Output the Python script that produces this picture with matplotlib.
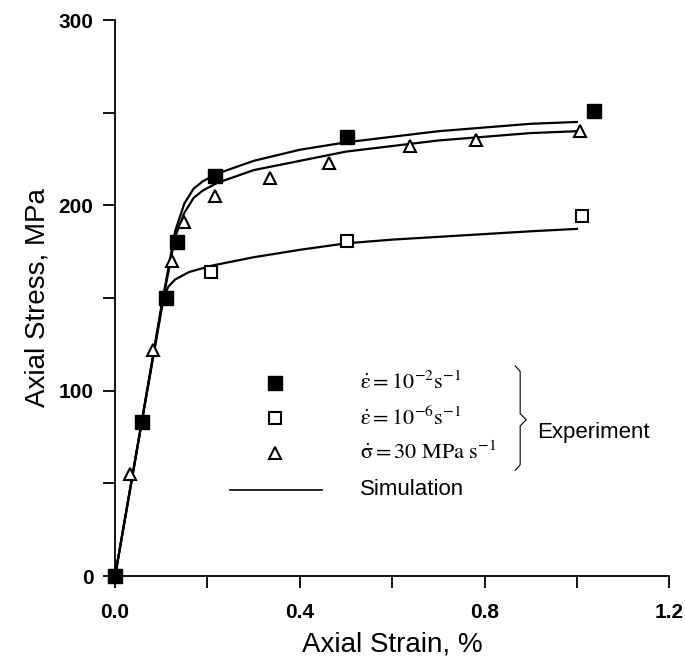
import numpy as np
import matplotlib.pyplot as plt
from matplotlib.ticker import MultipleLocator, FormatStrFormatter

plt.rcParams['font.family'] = ['Liberation Sans', 'DejaVu Sans']
plt.rcParams['mathtext.fontset'] = 'stix'

# experiment, strain rate 1e-2 1/s (filled squares)
fast_x = [0.0, 0.058, 0.111, 0.135, 0.217, 0.503, 1.036]
fast_y = [0, 83, 150, 180, 216, 237, 251]

# experiment, strain rate 1e-6 1/s (open squares)
slow_x = [0.0, 0.208, 0.503, 1.011]
slow_y = [0, 164, 181, 194]

# experiment, stress rate 30 MPa/s (triangles)
tri_x = [0.033, 0.082, 0.123, 0.150, 0.217, 0.336, 0.463, 0.638, 0.781, 1.006]
tri_y = [55, 122, 170, 191, 205, 215, 223, 232, 235, 240]

# simulations
sim_fast_x = [0.0, 0.05, 0.10, 0.13, 0.15, 0.17, 0.19, 0.22, 0.30, 0.40, 0.50, 0.60, 0.70, 0.80, 0.90, 1.00]
sim_fast_y = [0, 72, 145, 186, 201, 209, 213, 217, 224, 230, 234, 237, 240, 242, 244, 245]
sim_tri_x = [0.0, 0.05, 0.10, 0.13, 0.15, 0.17, 0.19, 0.22, 0.30, 0.40, 0.50, 0.60, 0.70, 0.80, 0.90, 1.00]
sim_tri_y = [0, 72, 144, 183, 196, 204, 208, 212, 219, 224, 229, 232, 235, 237, 239, 240]
sim_slow_x = [0.0, 0.05, 0.105, 0.115, 0.13, 0.16, 0.21, 0.30, 0.40, 0.50, 0.60, 0.70, 0.80, 0.90, 1.00]
sim_slow_y = [0, 72, 150, 156, 160, 164, 167.5, 172, 176, 179.5, 181.5, 183, 184.5, 186, 187.3]

fig = plt.figure(figsize=(6.85, 6.67), dpi=100)
ax = fig.add_axes([0.168, 0.1364, 0.809, 0.8336])

lw = 1.6
ax.plot(sim_fast_x, sim_fast_y, color='black', lw=lw)
ax.plot(sim_tri_x, sim_tri_y, color='black', lw=lw)
ax.plot(sim_slow_x, sim_slow_y, color='black', lw=lw)

ax.plot(tri_x, tri_y, ls='none', marker='^', ms=8, mfc='white', mec='black', mew=1.5, clip_on=False)
ax.plot(slow_x, slow_y, ls='none', marker='s', ms=8.5, mfc='white', mec='black', mew=1.5, clip_on=False)
ax.plot(fast_x, fast_y, ls='none', marker='s', ms=9.5, mfc='black', mec='black', clip_on=False)

ax.set_xlim(0, 1.2)
ax.set_ylim(0, 300)
ax.xaxis.set_major_locator(MultipleLocator(0.4))
ax.xaxis.set_minor_locator(MultipleLocator(0.2))
ax.xaxis.set_major_formatter(FormatStrFormatter('%.1f'))
ax.yaxis.set_major_locator(MultipleLocator(100))
ax.yaxis.set_minor_locator(MultipleLocator(50))

for s in ['top', 'right']:
    ax.spines[s].set_visible(False)
for s in ['left', 'bottom']:
    ax.spines[s].set_linewidth(1.3)

ax.tick_params(which='both', direction='out', width=1.3, length=8.5)
ax.tick_params(axis='y', pad=7)
ax.tick_params(axis='x', pad=11)
for lab in ax.get_xticklabels() + ax.get_yticklabels():
    lab.set_fontsize(15)
    lab.set_fontweight('bold')

ax.set_xlabel('Axial Strain, %', fontsize=20, labelpad=7)
ax.set_ylabel('Axial Stress, MPa', fontsize=20, labelpad=6)

# hand-made legend
mx = 0.289
tx = 0.442
rows = [0.347, 0.284, 0.221, 0.155]
ax.plot([mx], [rows[0]], transform=ax.transAxes, marker='s', ms=9.5, mfc='black', mec='black')
ax.plot([mx], [rows[1]], transform=ax.transAxes, marker='s', ms=8.5, mfc='white', mec='black', mew=1.5)
ax.plot([mx], [rows[2]], transform=ax.transAxes, marker='^', ms=8, mfc='white', mec='black', mew=1.5)
ax.plot([0.208, 0.374], [rows[3], rows[3]], transform=ax.transAxes, color='black', lw=1.2)

ax.text(tx, rows[0], r'$\dot{\mathrm{\varepsilon}} = 10^{-2}\mathrm{s}^{-1}$', transform=ax.transAxes,
        fontsize=16, va='center', ha='left')
ax.text(tx, rows[1], r'$\dot{\mathrm{\varepsilon}} = 10^{-6}\mathrm{s}^{-1}$', transform=ax.transAxes,
        fontsize=16, va='center', ha='left')
ax.text(tx, rows[2], r'$\dot{\mathrm{\sigma}} = 30\ \mathrm{MPa\ s}^{-1}$', transform=ax.transAxes,
        fontsize=16, va='center', ha='left')
ax.text(tx, rows[3], 'Simulation', transform=ax.transAxes, fontsize=16, va='center', ha='left')
ax.text(0.762, 0.259, 'Experiment', transform=ax.transAxes, fontsize=16, va='center', ha='left')

# curly brace
bx = [0.722, 0.731, 0.731, 0.742, 0.731, 0.731, 0.722]
by = [0.378, 0.368, 0.292, 0.281, 0.270, 0.200, 0.190]
ax.plot(bx, by, transform=ax.transAxes, color='black', lw=0.8)

fig.savefig('out.png', dpi=100)
